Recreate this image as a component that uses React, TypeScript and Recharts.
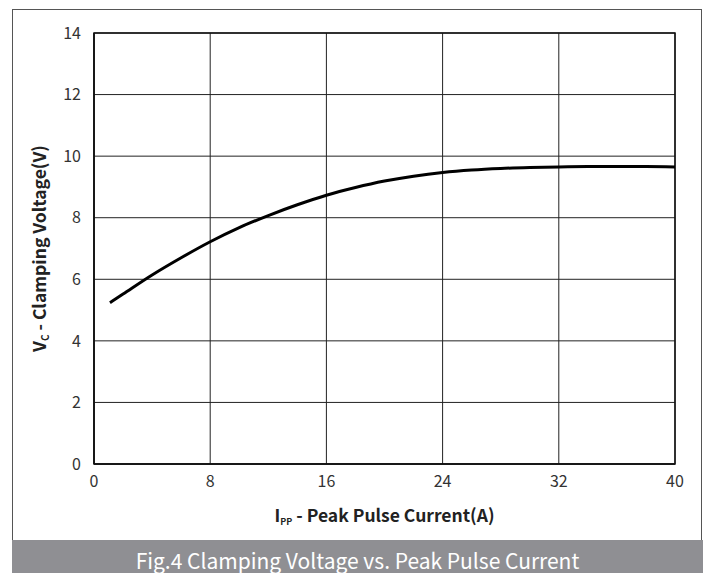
import { LineChart, Line, XAxis, YAxis, CartesianGrid, ReferenceArea } from 'recharts';

const current = [1.1, 2, 4, 6, 8, 10, 12, 14, 16, 18, 20, 22, 24, 26, 28, 30, 32, 34, 36, 38, 40];
const voltage = [5.24, 5.52, 6.14, 6.7, 7.22, 7.68, 8.07, 8.42, 8.73, 8.98, 9.19, 9.35, 9.47, 9.55, 9.6, 9.63, 9.65, 9.66, 9.66, 9.66, 9.65];
const xTicks = [0, 8, 16, 24, 32, 40];
const yTicks = [0, 2, 4, 6, 8, 10, 12, 14];

const data = current.map((x, i) => ({ x, v: voltage[i] }));

const FONT = '"Noto Sans CJK SC", "Noto Sans", sans-serif';

const XTitle = ({ viewBox }: any) => {
  const cx = viewBox.x + viewBox.width / 2;
  return (
    <text x={cx} y={522} textAnchor="middle" fontFamily={FONT} fontSize={17.5} fontWeight={700} fill="#222">
      <tspan>I</tspan>
      <tspan fontSize={9} dy={3}>PP</tspan>
      <tspan dy={-3}> - Peak Pulse Current(A)</tspan>
    </text>
  );
};

const YTitle = ({ viewBox }: any) => {
  const cy = viewBox.y + viewBox.height / 2;
  return (
    <text
      x={46}
      y={cy}
      transform={`rotate(-90, 46, ${cy})`}
      textAnchor="middle"
      fontFamily={FONT}
      fontSize={17.5}
      fontWeight={700}
      fill="#222"
    >
      <tspan>V</tspan>
      <tspan fontSize={10} dy={3}>C</tspan>
      <tspan dy={-3}> - Clamping Voltage(V)</tspan>
    </text>
  );
};

export default function App() {
  return (
    <div style={{ position: 'relative', width: 712, height: 581, margin: -8, background: '#fff', overflow: 'hidden' }}>
      <div
        style={{
          position: 'absolute', left: 12, top: 9, width: 690, height: 580,
          border: '1.5px solid #555', borderBottom: 'none', boxSizing: 'border-box',
        }}
      />
      <div
        style={{
          position: 'absolute', left: 12, top: 540, width: 691, height: 41, background: '#8f8f93',
          color: '#fff', fontFamily: FONT, fontSize: 21, lineHeight: '41px', textAlign: 'center',
        }}
      >
        Fig.4 Clamping Voltage vs. Peak Pulse Current
      </div>
      <div style={{ position: 'absolute', left: 0, top: 0 }}>
        <LineChart width={712} height={581} data={data} margin={{ top: 33, right: 37, left: 34, bottom: 87 }}>
          <CartesianGrid stroke="#222" strokeWidth={1} />
          <XAxis
            dataKey="x"
            type="number"
            domain={[0, 40]}
            ticks={xTicks}
            height={30}
            tickLine={false}
            axisLine={{ stroke: '#111', strokeWidth: 1.5 }}
            tick={{ fill: '#333', fontSize: 16, fontFamily: FONT }}
            tickMargin={6}
            label={<XTitle />}
          />
          <YAxis
            type="number"
            domain={[0, 14]}
            ticks={yTicks}
            width={60}
            tickLine={false}
            axisLine={{ stroke: '#111', strokeWidth: 1.5 }}
            tick={{ fill: '#333', fontSize: 16, fontFamily: FONT }}
            tickMargin={7}
            label={<YTitle />}
          />
          <ReferenceArea x1={0} x2={40} y1={0} y2={14} fill="none" stroke="#111" strokeWidth={1.5} ifOverflow="visible" />
          <Line
            dataKey="v"
            type="monotone"
            stroke="#000"
            strokeWidth={3}
            dot={false}
            isAnimationActive={false}
          />
        </LineChart>
      </div>
    </div>
  );
}
